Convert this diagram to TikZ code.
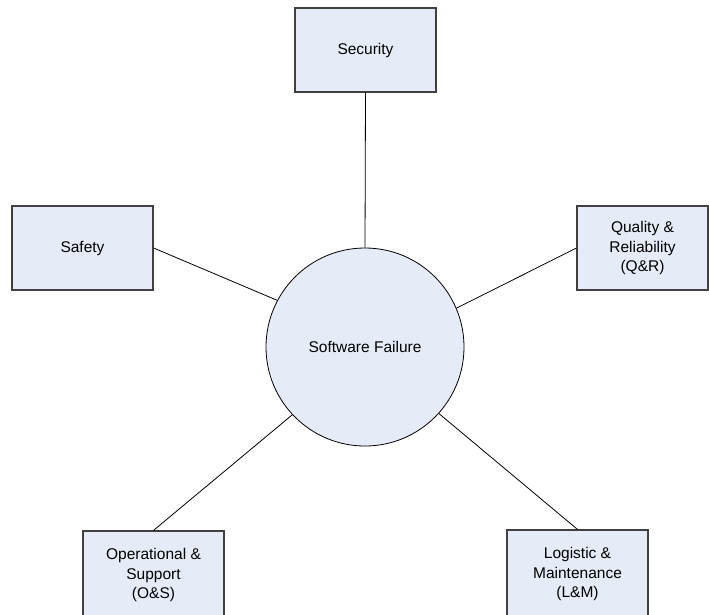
\documentclass[tikz,border=0pt]{standalone}
\usepackage{fontspec}
\setmainfont{Liberation Sans}
\definecolor{paleblue}{RGB}{230,236,247}
\begin{document}
\begin{tikzpicture}[
	x=1pt, y=-1pt,
	every node/.style={font=\fontsize{15.5}{19.5}\selectfont, align=center},
	areabox/.style={shape=rectangle, fill=paleblue, draw=black!75, line width=1.2pt, minimum width=141pt, minimum height=84pt, inner sep=0pt},
	corenode/.style={shape=circle, fill=paleblue, draw=black, line width=0.8pt, minimum size=198pt, inner sep=0pt},
	link/.style={draw=black, line width=0.8pt},
]
\useasboundingbox (0,0) rectangle (709,614);

\node[corenode] (fail) at (365,347) {Software Failure};
\node[areabox] (sec) at (365.5,50) {Security};
\node[areabox] (saf) at (82.5,248) {Safety};
\node[areabox, minimum width=131pt] (qual) at (642.5,248) {Quality \&\\Reliability\\(Q\&R)};
\node[areabox, minimum height=88pt] (ops) at (153.5,575) {Operational \&\\Support\\(O\&S)};
\node[areabox, minimum height=88pt] (log) at (577.5,574) {Logistic \&\\Maintenance\\(L\&M)};

\draw[link] (sec.south) -- (fail.north);
\draw[link] (saf.east) -- (fail.152);
\draw[link] (qual.west) -- (fail.23);
\draw[link] (ops.north) -- (fail.223);
\draw[link] (log.north) -- (fail.318);
\end{tikzpicture}
\end{document}
